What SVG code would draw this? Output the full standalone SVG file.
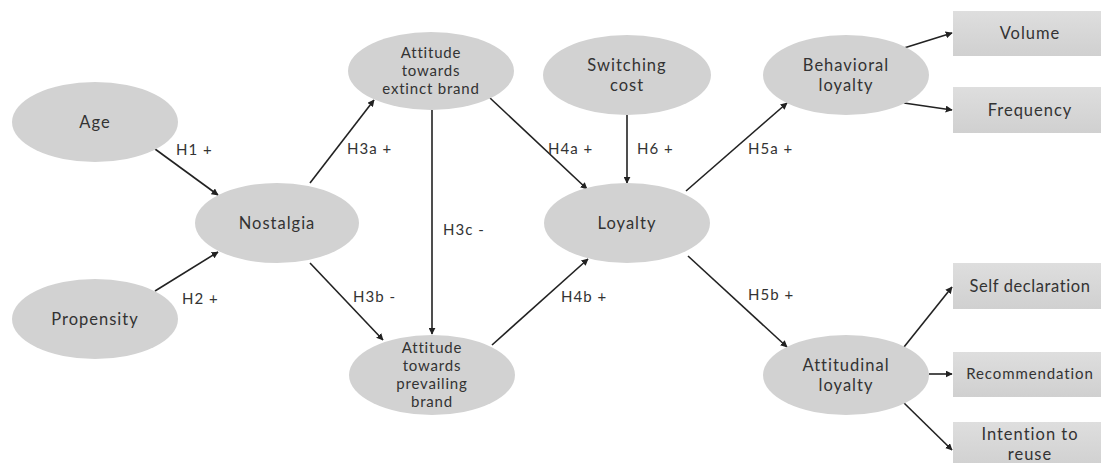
<svg xmlns="http://www.w3.org/2000/svg" width="1103" height="463" viewBox="0 0 1103 463">
<defs>
<marker id="arr" viewBox="0 0 10 10" refX="9" refY="5" markerWidth="7" markerHeight="7" markerUnits="userSpaceOnUse" orient="auto">
<path d="M0,0 L10,5 L0,10 z" fill="#222"/>
</marker>
<linearGradient id="rg" x1="0" y1="0" x2="0" y2="1">
<stop offset="0" stop-color="#dedede"/>
<stop offset="1" stop-color="#d0d0d0"/>
</linearGradient>
<style>
.el{fill:#d2d2d2;}
.bx{fill:url(#rg);}
.t{font-family:Lato,"Open Sans",sans-serif;fill:#333;text-anchor:middle;}
.n{font-size:16.5px;letter-spacing:1px;}
.s{font-size:15px;letter-spacing:0.8px;}
.lb{font-family:Lato,"Open Sans",sans-serif;fill:#333;font-size:15px;letter-spacing:1px;}
.c{stroke:#222;stroke-width:1.6;fill:none;marker-end:url(#arr);}
</style>
</defs>
<rect width="1103" height="463" fill="#fff"/>
<g id="connectors">
<line class="c" x1="155" y1="149" x2="218" y2="195"/>
<line class="c" x1="155" y1="291" x2="218" y2="252"/>
<line class="c" x1="310" y1="183" x2="374" y2="100"/>
<line class="c" x1="310" y1="263" x2="383" y2="340"/>
<line class="c" x1="432" y1="110" x2="432" y2="334"/>
<line class="c" x1="490" y1="98" x2="587" y2="189"/>
<line class="c" x1="627" y1="115" x2="627" y2="183"/>
<line class="c" x1="492" y1="345" x2="588" y2="259"/>
<line class="c" x1="686" y1="191" x2="787" y2="103"/>
<line class="c" x1="688" y1="256" x2="787" y2="347"/>
<line class="c" x1="904" y1="48" x2="952" y2="33"/>
<line class="c" x1="904" y1="103" x2="952" y2="110"/>
<line class="c" x1="904" y1="347" x2="952" y2="287"/>
<line class="c" x1="929" y1="374" x2="952" y2="374"/>
<line class="c" x1="904" y1="403" x2="952" y2="450"/>
</g>
<g id="edge-labels">
<text class="lb" x="176" y="155">H1 +</text>
<text class="lb" x="182" y="304">H2 +</text>
<text class="lb" x="347" y="154">H3a +</text>
<text class="lb" x="353" y="302">H3b -</text>
<text class="lb" x="443" y="235">H3c -</text>
<text class="lb" x="548" y="154">H4a +</text>
<text class="lb" x="561" y="302">H4b +</text>
<text class="lb" x="637" y="154">H6 +</text>
<text class="lb" x="748" y="154">H5a +</text>
<text class="lb" x="748" y="300">H5b +</text>
</g>
<g id="age"><ellipse class="el" cx="95" cy="122" rx="83" ry="40"/><text class="t n" x="95" y="128">Age</text></g>
<g id="propensity"><ellipse class="el" cx="95" cy="319" rx="83" ry="40"/><text class="t n" x="95" y="325">Propensity</text></g>
<g id="nostalgia"><ellipse class="el" cx="277" cy="223" rx="82" ry="40"/><text class="t n" x="277" y="229">Nostalgia</text></g>
<g id="extinct"><ellipse class="el" cx="431" cy="71" rx="83" ry="39"/>
<text class="t s" x="431" y="58">Attitude</text><text class="t s" x="431" y="76">towards</text><text class="t s" x="431" y="94">extinct brand</text></g>
<g id="prevailing"><ellipse class="el" cx="432" cy="375" rx="83" ry="40"/>
<text class="t s" x="432" y="353">Attitude</text><text class="t s" x="432" y="371">towards</text><text class="t s" x="432" y="389">prevailing</text><text class="t s" x="432" y="407">brand</text></g>
<g id="switching"><ellipse class="el" cx="627" cy="75" rx="84" ry="40"/>
<text class="t n" x="627" y="71">Switching</text><text class="t n" x="627" y="91">cost</text></g>
<g id="loyalty"><ellipse class="el" cx="627" cy="223" rx="83" ry="40"/><text class="t n" x="627" y="229">Loyalty</text></g>
<g id="behavioral"><ellipse class="el" cx="846" cy="75" rx="83" ry="40"/>
<text class="t n" x="846" y="71">Behavioral</text><text class="t n" x="846" y="91">loyalty</text></g>
<g id="attitudinal"><ellipse class="el" cx="846" cy="375" rx="83" ry="40"/>
<text class="t n" x="846" y="371">Attitudinal</text><text class="t n" x="846" y="391">loyalty</text></g>
<g id="volume"><rect class="bx" x="953" y="11" width="148" height="45"/><text class="t n" x="1030" y="39">Volume</text></g>
<g id="frequency"><rect class="bx" x="953" y="87" width="148" height="46"/><text class="t n" x="1030" y="116">Frequency</text></g>
<g id="self"><rect class="bx" x="953" y="263" width="148" height="46"/><text class="t n" x="1030" y="292" style="letter-spacing:0.6px">Self declaration</text></g>
<g id="recommendation"><rect class="bx" x="953" y="352" width="148" height="45"/><text class="t" style="font-size:15px;letter-spacing:0.9px" x="1030" y="379">Recommendation</text></g>
<g id="intention"><rect class="bx" x="953" y="422" width="148" height="46"/>
<text class="t n" x="1030" y="440">Intention to</text><text class="t n" x="1030" y="460">reuse</text></g>
</svg>
